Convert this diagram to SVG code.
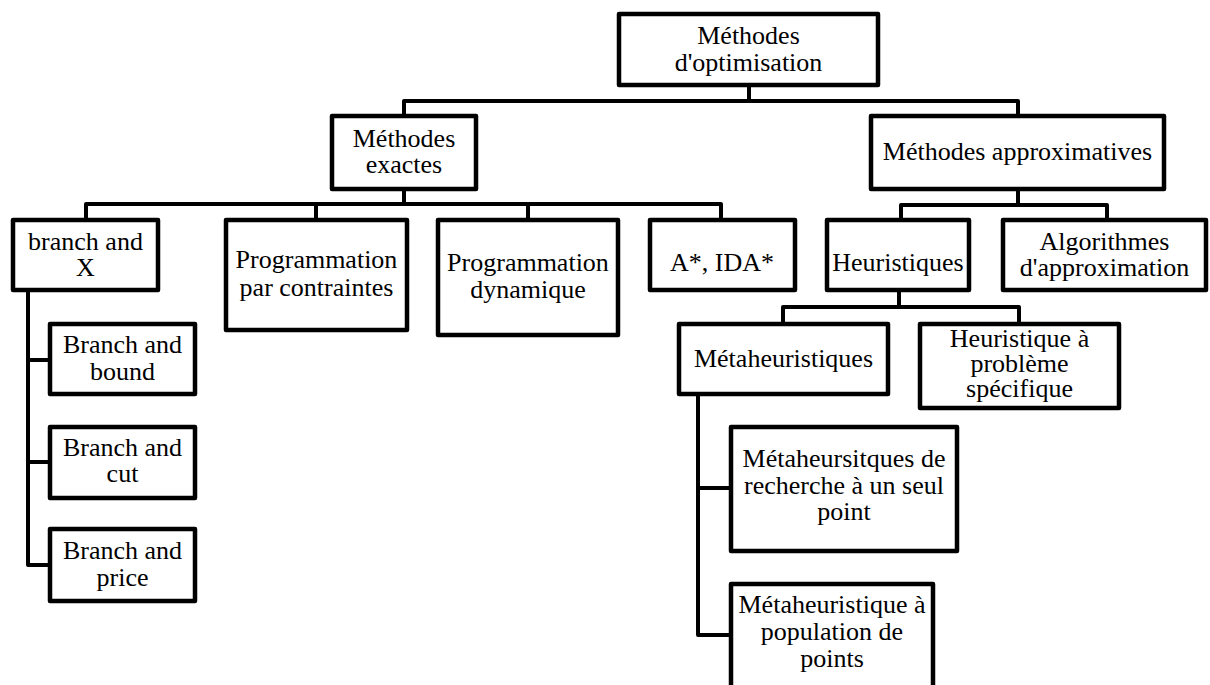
<svg xmlns="http://www.w3.org/2000/svg" width="1210" height="685" viewBox="0 0 1210 685">
<style>
.box{fill:#fff;stroke:#000;stroke-width:4.5;stroke-linejoin:round}
.con{fill:none;stroke:#000;stroke-width:4;stroke-linejoin:round;stroke-linecap:square}
.t text{font-family:'Liberation Serif','Times New Roman',Times,serif;font-size:26px;fill:#000;text-anchor:middle}
</style>
<rect width="1210" height="685" fill="#fff"/>
<g id="connectors">
<path class="con" d="M749,85 V101 M404,116 V101 H1018 V116"/>
<path class="con" d="M404,189 V204 M86,220 V204 H721 V220 M316,204 V220 M528,204 V220"/>
<path class="con" d="M1018,189 V205 M901,220 V205 H1107 V220"/>
<path class="con" d="M28,290 V565 H50 M28,360 H50 M28,462 H50"/>
<path class="con" d="M899,290 V307 M783,324 V307 H1019 V324"/>
<path class="con" d="M698,394 V635 H731 M698,488 H731"/>
</g>
<g class="t" font-family="'Liberation Serif', 'Times New Roman', serif" font-size="26">
<g id="n-root">
<rect class="box" x="619" y="14" width="259" height="71"/>
<text x="748.5" y="44">Méthodes</text>
<text x="748.5" y="71">d'optimisation</text>
</g>
<g id="n-exactes">
<rect class="box" x="332" y="116" width="144" height="73"/>
<text x="404" y="147">Méthodes</text>
<text x="404" y="173">exactes</text>
</g>
<g id="n-approx">
<rect class="box" x="871" y="116" width="293" height="73"/>
<text x="1017.5" y="160">Méthodes approximatives</text>
</g>
<g id="n-branchx">
<rect class="box" x="13" y="220" width="145" height="70"/>
<text x="85.5" y="250">branch and</text>
<text x="85.5" y="276">X</text>
</g>
<g id="n-ppc">
<rect class="box" x="226" y="220" width="181" height="110"/>
<text x="316.5" y="268">Programmation</text>
<text x="316.5" y="296">par contraintes</text>
</g>
<g id="n-pd">
<rect class="box" x="438" y="220" width="180" height="115"/>
<text x="528" y="271">Programmation</text>
<text x="528" y="298">dynamique</text>
</g>
<g id="n-astar">
<rect class="box" x="650" y="220" width="145" height="70"/>
<text x="722" y="271">A*, IDA*</text>
</g>
<g id="n-heur">
<rect class="box" x="827" y="220" width="142" height="70"/>
<text x="898" y="271">Heuristiques</text>
</g>
<g id="n-algo">
<rect class="box" x="1003" y="220" width="203" height="70"/>
<text x="1104.5" y="250">Algorithmes</text>
<text x="1104.5" y="276">d'approximation</text>
</g>
<g id="n-bb">
<rect class="box" x="50" y="324" width="145" height="70"/>
<text x="122.5" y="353">Branch and</text>
<text x="122.5" y="380">bound</text>
</g>
<g id="n-bc">
<rect class="box" x="50" y="427" width="145" height="71"/>
<text x="122.5" y="456">Branch and</text>
<text x="122.5" y="482">cut</text>
</g>
<g id="n-bp">
<rect class="box" x="50" y="529" width="145" height="72"/>
<text x="122.5" y="559">Branch and</text>
<text x="122.5" y="586">price</text>
</g>
<g id="n-meta">
<rect class="box" x="679" y="324" width="209" height="70"/>
<text x="783.5" y="367">Métaheuristiques</text>
</g>
<g id="n-hps">
<rect class="box" x="920" y="324" width="199" height="84"/>
<text x="1019.5" y="347">Heuristique à</text>
<text x="1019.5" y="372">problème</text>
<text x="1019.5" y="397">spécifique</text>
</g>
<g id="n-mrs">
<rect class="box" x="731" y="427" width="226" height="124"/>
<text x="844" y="467">Métaheursitques de</text>
<text x="844" y="494">recherche à un seul</text>
<text x="844" y="520">point</text>
</g>
<g id="n-mpp">
<rect class="box" x="731" y="584" width="202" height="110"/>
<text x="832" y="613">Métaheuristique à</text>
<text x="832" y="640">population de</text>
<text x="832" y="667">points</text>
</g>
</g>
</svg>
